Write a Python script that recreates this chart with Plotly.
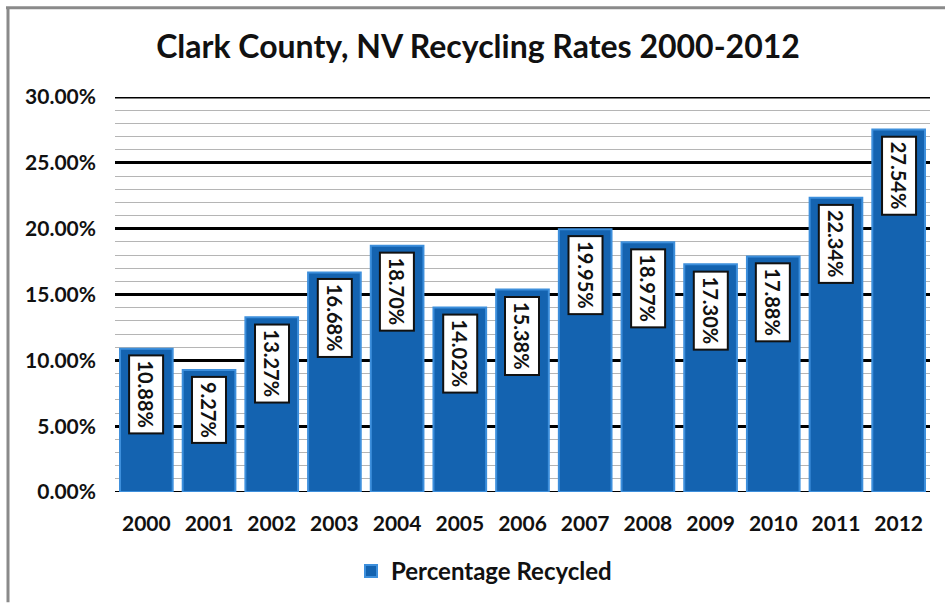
import plotly.graph_objects as go

years = ["2000", "2001", "2002", "2003", "2004", "2005", "2006",
         "2007", "2008", "2009", "2010", "2011", "2012"]
rates = [10.88, 9.27, 13.27, 16.68, 18.70, 14.02, 15.38,
         19.95, 18.97, 17.30, 17.88, 22.34, 27.54]
labels = ["10.88%", "9.27%", "13.27%", "16.68%", "18.70%", "14.02%", "15.38%",
          "19.95%", "18.97%", "17.30%", "17.88%", "22.34%", "27.54%"]
series_name = "Percentage Recycled"
title_text = "Clark County, NV Recycling Rates 2000-2012"

FONT = "Lato"
vals = [r / 100 for r in rates]

fig = go.Figure()
fig.add_trace(go.Bar(
    x=years, y=vals, name=series_name,
    marker=dict(color="#1463b0", line=dict(color="#3d8fdc", width=2)),
    hoverinfo="skip",
))

for i, (v, lab) in enumerate(zip(vals, labels)):
    fig.add_annotation(
        x=i, y=v, xref="x", yref="y", text="<b>" + lab + "</b>",
        textangle=90, showarrow=False, yanchor="top", xanchor="center",
        yshift=-6, bgcolor="white", bordercolor="#111111", borderwidth=2,
        borderpad=4, font=dict(family=FONT, size=20, color="#111111"),
    )

# outer frame (scanned page border)
L, R, T, B = 115, 930, 97, 495
def px(x):
    return (x - L) / (R - L)
def py(y):
    return (B - y) / (B - T)
fig.add_shape(type="line", xref="paper", yref="paper",
              x0=px(8), x1=px(8), y0=py(7), y1=py(606),
              line=dict(color="#8a8a8a", width=3))
fig.add_shape(type="line", xref="paper", yref="paper",
              x0=px(6), x1=px(945), y0=py(7), y1=py(7),
              line=dict(color="#8a8a8a", width=3))

fig.update_layout(
    width=945, height=606,
    margin=dict(l=L, r=945 - R, t=T, b=606 - B),
    paper_bgcolor="white", plot_bgcolor="white",
    title=dict(text="<b>" + title_text + "</b>", x=478 / 945, xanchor="center",
               y=1 - 47 / 606, yanchor="middle", xref="container", yref="container",
               font=dict(family=FONT, size=32, color="#111111")),
    bargap=0.16,
    showlegend=True,
    legend=dict(orientation="h", x=px(484), xanchor="center", y=py(575),
                yanchor="middle",
                font=dict(family=FONT, size=24, color="#111111", weight="bold"),
                itemwidth=30),
    font=dict(family=FONT),
)
fig.update_yaxes(
    range=[0, 0.30], dtick=0.05, tick0=0, tickformat=".2%",
    showgrid=True, gridcolor="#000000", gridwidth=3,
    zeroline=False, showline=False,
    ticklabelstandoff=18,
    tickfont=dict(family=FONT, size=21, color="#111111", weight="bold"),
    minor=dict(dtick=0.01, tick0=0, showgrid=True, gridcolor="#b5b5b5", gridwidth=1),
)
fig.update_xaxes(
    type="category", showline=False, showgrid=False, ticks="",
    ticklabelstandoff=17,
    tickfont=dict(family=FONT, size=21, color="#111111", weight="bold"),
)
fig.add_shape(type="line", xref="paper", yref="y", x0=0, x1=1, y0=0, y1=0,
              line=dict(color="#000000", width=2), layer="below")
fig.add_shape(type="line", xref="paper", yref="y", x0=0, x1=1, y0=0.30, y1=0.30,
              line=dict(color="#000000", width=3), layer="below")

fig.write_html("out.html")
